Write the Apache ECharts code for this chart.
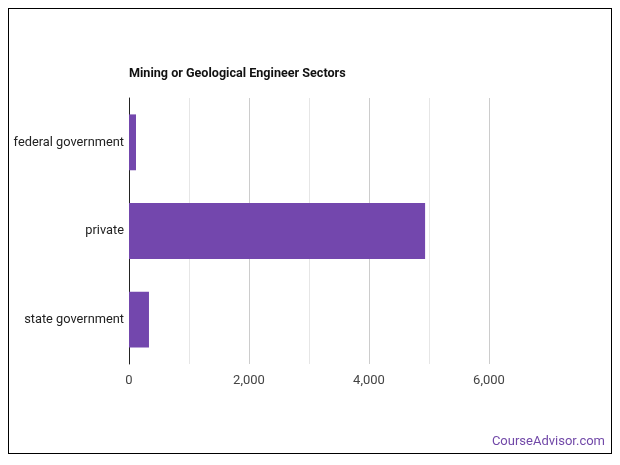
<!DOCTYPE html>
<html>
<head>
<meta charset="utf-8">
<script src="https://cdn.jsdelivr.net/npm/echarts@6/dist/echarts.min.js"></script>
<style>
  html, body { margin: 0; padding: 0; background: #fff; }
  .frame { position: absolute; left: 8px; top: 8px; width: 602px; height: 444px; border: 1px solid #000; }
  #chart { position: absolute; left: 0; top: 0; width: 620px; height: 465px; }
</style>
</head>
<body>
<div class="frame"></div>
<div id="chart"></div>
<script>
  const sectors = ['federal government', 'private', 'state government'];
  const workers = [117, 4935, 333];
  const tickValues = [0, 2000, 4000, 6000];

  const chart = echarts.init(document.getElementById('chart'));
  chart.setOption({
    animation: false,
    textStyle: { fontFamily: 'Roboto' },
    title: {
      text: 'Mining or Geological Engineer Sectors',
      left: 124, top: 62,
      textStyle: { fontSize: 12.6, fontWeight: 'bold', color: '#111', fontFamily: 'Roboto' }
    },
    graphic: [{
      type: 'text', right: 15, top: 435,
      style: { text: 'CourseAdvisor.com', fill: '#7148a8', fontSize: 13, fontFamily: 'Roboto' }
    }],
    grid: { left: 129, right: 131, top: 98, bottom: 101 },
    xAxis: {
      type: 'value', min: 0, max: 6000, interval: 1000,
      axisLine: { show: false },
      axisTick: { show: false },
      axisLabel: {
        color: '#444', fontSize: 13, margin: 10,
        formatter: v => tickValues.includes(v) ? v.toLocaleString('en-US') : ''
      },
      splitLine: { lineStyle: { color: ['#cccccc', '#e6e6e6'] } }
    },
    yAxis: {
      type: 'category', data: sectors, inverse: true,
      axisLine: { lineStyle: { color: '#222' } },
      axisTick: { show: false },
      axisLabel: { color: '#222', fontSize: 12.8, margin: 5 }
    },
    series: [{
      type: 'bar', data: workers,
      barCategoryGap: '37%',
      itemStyle: { color: '#7347ad' }
    }]
  });
</script>
</body>
</html>
